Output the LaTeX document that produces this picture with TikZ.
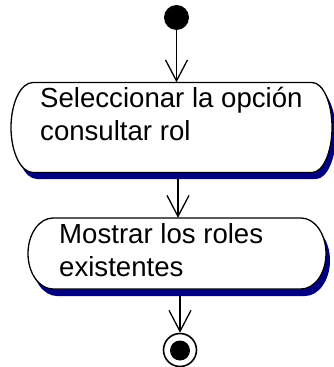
\documentclass[tikz,border=0pt]{standalone}
\usepackage{fontspec}
\setmainfont{Liberation Sans}
\usetikzlibrary{arrows.meta}
\definecolor{shadownavy}{RGB}{0,0,128}
\newcommand\capsulepath[6]{%
  % #1 left extreme, #2 straight start, #3 straight end, #4 right extreme, #5 top, #6 bottom
  (#2,#5) -- (#3,#5)
  .. controls ({#3+0.552*(#4-#3)},#5) and (#4,{#5+0.448*(#6-#5)/2}) .. (#4,{(#5+#6)/2})
  .. controls (#4,{#6-0.448*(#6-#5)/2}) and ({#3+0.552*(#4-#3)},#6) .. (#3,#6)
  -- (#2,#6)
  .. controls ({#2-0.552*(#2-#1)},#6) and (#1,{#6-0.448*(#6-#5)/2}) .. (#1,{(#5+#6)/2})
  .. controls (#1,{#5+0.448*(#6-#5)/2}) and ({#2-0.552*(#2-#1)},#5) .. (#2,#5) -- cycle}
\begin{document}
\begin{tikzpicture}[x=1pt,y=-1pt,
  flow/.style={line width=1.3pt,-{Straight Barb[length=21pt,width=22pt]}},
  lbl/.style={anchor=base west,inner sep=0pt,font=\fontsize{27.6}{33}\selectfont},
  actbox/.style={draw=black,line width=1.3pt,fill=white},
  actshadow/.style={fill=shadownavy,draw=none},
  area/.style={draw=none,inner sep=0pt,minimum width=#1},
  startnode/.style={circle,fill=black,draw=none,minimum size=25pt,inner sep=0pt},
  endring/.style={circle,draw=black,line width=1.6pt,fill=white,minimum size=33pt,inner sep=0pt},
  enddot/.style={circle,fill=black,draw=none,minimum size=20pt,inner sep=0pt}]
\useasboundingbox (0,0) rectangle (334,367);

% activity 1
\fill[actshadow,xshift=4pt,yshift=-6.5pt] \capsulepath{11}{33}{312}{332}{82.5}{172.5};
\draw[actbox] \capsulepath{11}{33}{312}{332}{82.5}{172.5};
\node[area=321pt,minimum height=90pt] (b1) at (171.5,127.5) {};
\node[lbl] (t1a) at (40,107) {Seleccionar la opción};
\node[lbl] (t1b) at (40,140) {consultar rol};

% activity 2
\fill[actshadow,xshift=4pt,yshift=-7pt] \capsulepath{28}{53}{301}{326}{218}{289};
\draw[actbox] \capsulepath{28}{53}{301}{326}{218}{289};
\node[area=298pt,minimum height=71pt] (b2) at (177,253.5) {};
\node[lbl] (t2a) at (59,243.5) {Mostrar los roles};
\node[lbl] (t2b) at (59,276) {existentes};

% start / end
\node[startnode] (s) at (176.5,17.5) {};
\node[endring] (e) at (180,350) {};
\node[enddot] (ed) at (180,350.5) {};

% connectors
\coordinate (a2s) at (178,179);
\coordinate (a3s) at (180,296);
\draw[flow] (s) -- (s |- b1.north);
\draw[flow] (a2s) -- (a2s |- b2.north);
\draw[flow] (a3s) -- (e);
\end{tikzpicture}
\end{document}
